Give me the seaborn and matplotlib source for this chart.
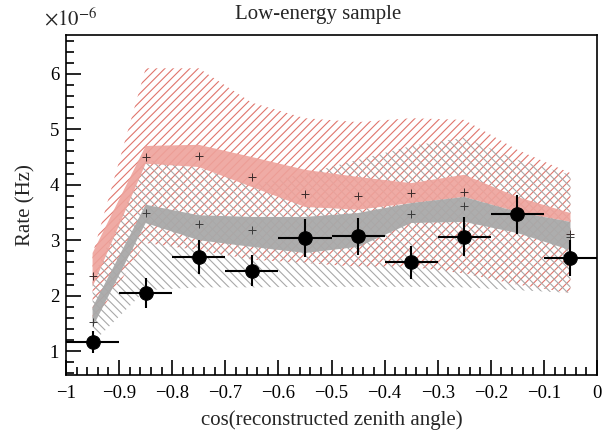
import numpy as np
import pandas as pd
import matplotlib
matplotlib.use("Agg")
import matplotlib.pyplot as plt
import matplotlib.ticker as mticker
import seaborn as sns

# ---- data (rates in units of 1e-6 Hz) ----
cos_centers = [-0.95, -0.85, -0.75, -0.65, -0.55, -0.45, -0.35, -0.25, -0.15, -0.05]
bin_halfwidth = [0.05] * 10
data_rate = [1.17, 2.05, 2.70, 2.45, 3.04, 3.07, 2.60, 3.06, 3.47, 2.68]
data_err = [0.20, 0.27, 0.30, 0.28, 0.35, 0.33, 0.30, 0.35, 0.35, 0.32]

red_marks_x = [-0.95, -0.85, -0.75, -0.65, -0.55, -0.45, -0.35, -0.25, -0.05]
red_marks_y = [2.35, 4.50, 4.52, 4.14, 3.84, 3.80, 3.86, 3.87, 3.11]
grey_marks_x = [-0.95, -0.85, -0.75, -0.65, -0.35, -0.25, -0.05]
grey_marks_y = [1.52, 3.49, 3.29, 3.18, 3.47, 3.62, 3.06]

red_band_lo = [2.16, 4.38, 4.32, 3.96, 3.60, 3.55, 3.67, 3.78, 3.51, 3.33]
red_band_hi = [2.77, 4.70, 4.72, 4.50, 4.27, 4.14, 4.03, 4.18, 3.78, 3.49]
grey_band_lo = [1.43, 3.31, 3.00, 2.88, 2.77, 2.88, 3.31, 3.33, 3.13, 2.82]
grey_band_hi = [1.79, 3.64, 3.45, 3.42, 3.42, 3.49, 3.67, 3.78, 3.51, 3.33]

red_sys_lo = [1.50, 2.95, 2.82, 2.65, 2.59, 2.52, 2.52, 2.40, 2.20, 2.05]
red_sys_hi = [2.75, 6.10, 6.10, 5.48, 5.20, 5.13, 5.20, 5.17, 4.63, 4.21]
grey_sys_lo = [1.15, 2.10, 2.15, 2.15, 2.16, 2.16, 2.16, 2.15, 2.10, 2.05]
grey_sys_hi = [2.30, 4.45, 4.30, 4.00, 4.20, 4.45, 4.70, 4.85, 4.45, 4.18]

scale = 1e-6
def s(a):
    return np.asarray(a) * scale

sns.set_theme(style="ticks")
plt.rcParams["font.family"] = ["Liberation Serif", "DejaVu Serif"]
plt.rcParams["mathtext.fontset"] = "stix"
plt.rcParams["hatch.linewidth"] = 0.8

fig = plt.figure(figsize=(6.13, 4.36), dpi=100)
ax = fig.add_axes([0.1077, 0.1399, 0.8662, 0.7798])

red_c = "#e0756c"
red_fill = "#eea29b"
grey_c = "#a9a9a9"

x = np.asarray(cos_centers)
# systematic hatched bands
ax.fill_between(x, s(red_sys_lo), s(red_sys_hi), facecolor="none",
                edgecolor=red_c, linewidth=0, hatch="////", zorder=1)
ax.fill_between(x, s(grey_sys_lo), s(grey_sys_hi), facecolor="none",
                edgecolor=grey_c, linewidth=0, hatch="\\\\\\\\", zorder=1)
# statistical solid bands
ax.fill_between(x, s(red_band_lo), s(red_band_hi), facecolor=red_fill,
                edgecolor="none", alpha=0.9, zorder=2)
ax.fill_between(x, s(grey_band_lo), s(grey_band_hi), facecolor=grey_c,
                edgecolor="none", alpha=0.95, zorder=2)

# MC central markers
mr = pd.DataFrame({"x": red_marks_x, "y": s(red_marks_y)})
mg = pd.DataFrame({"x": grey_marks_x, "y": s(grey_marks_y)})
sns.scatterplot(data=mr, x="x", y="y", marker="+", s=40, color="#3a2a2a",
                linewidth=0.7, ax=ax, zorder=3)
sns.scatterplot(data=mg, x="x", y="y", marker="+", s=40, color="#3a3a3a",
                linewidth=0.7, ax=ax, zorder=3)

# data points
ax.errorbar(x, s(data_rate), xerr=bin_halfwidth, yerr=s(data_err), fmt="none",
            ecolor="black", elinewidth=1.5, capsize=0, zorder=4)
dd = pd.DataFrame({"x": cos_centers, "y": s(data_rate)})
sns.scatterplot(data=dd, x="x", y="y", marker="o", s=95, color="black",
                edgecolor="black", ax=ax, zorder=5)

ax.set_xlim(-1.0, 0.0)
ax.set_ylim(0.57e-6, 6.70e-6)

ax.xaxis.set_major_locator(mticker.MultipleLocator(0.1))
ax.xaxis.set_minor_locator(mticker.MultipleLocator(0.02))
ax.xaxis.set_major_formatter(mticker.FuncFormatter(
    lambda v, p: ("%g" % round(v, 2)).replace("-", "\u2212") if abs(v) > 1e-9 else "0"))
ax.yaxis.set_major_locator(mticker.MultipleLocator(1e-6))
ax.yaxis.set_minor_locator(mticker.MultipleLocator(0.2e-6))
ax.yaxis.set_major_formatter(mticker.FuncFormatter(lambda v, p: "%d" % round(v / scale)))

ax.tick_params(which="both", direction="in", top=False, right=False,
               labelsize=13.5, width=1.2, colors="black")
ax.tick_params(which="major", length=11)
ax.tick_params(which="minor", length=6)
ax.tick_params(axis="y", pad=5)
ax.tick_params(axis="x", pad=7)
for sp in ax.spines.values():
    sp.set_linewidth(1.2)
    sp.set_color("black")

ax.set_xlabel("cos(reconstructed zenith angle)", fontsize=15, labelpad=6)
ax.set_ylabel("Rate (Hz)", fontsize=15, labelpad=10)
fig.text(318 / 613, 1 - 15 / 436, "Low-energy sample", fontsize=15,
         ha="center", va="center")
fig.text(44 / 613, 1 - 25 / 436, r"$\times10^{-6}$", fontsize=15,
         ha="left", va="baseline")

fig.savefig("out.png", dpi=100)
